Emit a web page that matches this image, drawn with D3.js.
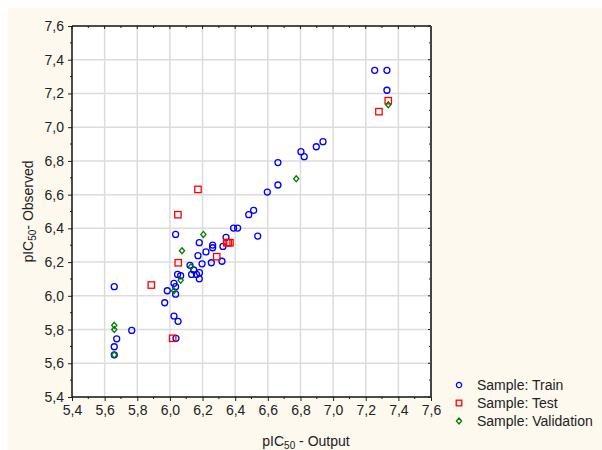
<!DOCTYPE html>
<html>
<head>
<meta charset="utf-8">
<script src="https://cdn.jsdelivr.net/npm/d3@7"></script>
<style>
  body { margin: 0; background: #fff; }
  text { font-family: "Liberation Sans", Arial, sans-serif; }
</style>
</head>
<body>
<div class="canvas"></div>
<script>
// [output, observed]
const trainData = [
    [5.659, 6.054], [5.674, 5.745], [5.659, 5.698], [5.659, 5.650], [5.766, 5.795],
    [5.968, 5.959], [5.984, 6.030], [6.025, 6.074], [6.035, 6.054], [6.035, 6.010],
    [6.025, 5.880], [6.050, 5.849], [6.037, 5.748], [6.035, 6.364], [6.047, 6.127],
    [6.066, 6.119], [6.123, 6.181], [6.146, 6.153], [6.181, 6.137], [6.133, 6.127],
    [6.163, 6.127], [6.180, 6.101], [6.172, 6.238], [6.180, 6.315], [6.221, 6.260],
    [6.197, 6.190], [6.254, 6.196], [6.262, 6.301], [6.262, 6.285], [6.319, 6.205],
    [6.325, 6.293], [6.344, 6.347], [6.390, 6.402], [6.415, 6.402], [6.483, 6.481],
    [6.513, 6.507], [6.538, 6.354], [6.597, 6.615], [6.662, 6.657], [6.662, 6.790],
    [6.803, 6.855], [6.823, 6.825], [6.897, 6.884], [6.938, 6.914], [7.255, 7.337],
    [7.330, 7.337], [7.330, 7.219]
];
const testData = [
    [5.886, 6.064], [6.017, 5.748], [6.049, 6.481], [6.051, 6.196], [6.172, 6.631],
    [6.287, 6.232], [6.348, 6.315], [6.358, 6.315], [6.368, 6.315], [7.281, 7.092],
    [7.338, 7.157]
];
const validationData = [
    [5.659, 5.825], [5.659, 5.800], [5.659, 5.650], [6.025, 6.030], [6.066, 6.093],
    [6.074, 6.267], [6.129, 6.172], [6.205, 6.364], [6.774, 6.694], [7.338, 7.133]
];
const tickValues = [5.4, 5.6, 5.8, 6.0, 6.2, 6.4, 6.6, 6.8, 7.0, 7.2, 7.4, 7.6];
const minorValues = [5.5, 5.7, 5.9, 6.1, 6.3, 6.5, 6.7, 6.9, 7.1, 7.3, 7.5];
const legendLabels = ["Sample: Train", "Sample: Test", "Sample: Validation"];

const W = 602, H = 450;
const margin = { left: 72, top: 26, right: 171, bottom: 53 };
const plot = { width: W - margin.left - margin.right, height: H - margin.top - margin.bottom };

const locale = d3.formatLocale({ decimal: ",", thousands: ".", grouping: [3], currency: ["", ""] });
const fmt = locale.format(".1f");

const svg = d3.select(".canvas").append("svg")
    .attr("width", W)
    .attr("height", H);

svg.append("rect")
    .attr("x", 8).attr("y", 8)
    .attr("width", W - 8).attr("height", H - 8)
    .attr("fill", "#fdf9ef");

const chart = svg.append("g")
    .attr("transform", `translate(${margin.left},${margin.top})`);

const x = d3.scaleLinear().domain([5.4, 7.6]).range([0, plot.width]);
const y = d3.scaleLinear().domain([5.4, 7.6]).range([plot.height, 0]);

chart.append("rect")
    .attr("width", plot.width).attr("height", plot.height)
    .attr("fill", "#fff");

// grid
chart.append("g").selectAll("line").data(tickValues.slice(1, -1)).join("line")
    .attr("x1", d => x(d)).attr("x2", d => x(d))
    .attr("y1", 0).attr("y2", plot.height)
    .attr("stroke", "#dcdcdc").attr("stroke-width", 1.5);
chart.append("g").selectAll("line").data(tickValues.slice(1, -1)).join("line")
    .attr("y1", d => y(d)).attr("y2", d => y(d))
    .attr("x1", 0).attr("x2", plot.width)
    .attr("stroke", "#dcdcdc").attr("stroke-width", 1.5);

// axes
function styleAxis(g) {
    g.select(".domain").remove();
    g.selectAll(".tick line").attr("stroke", "#222");
    g.selectAll(".tick text")
        .attr("fill", "#222")
        .style("font-size", "14px");
}

const xAxis = chart.append("g")
    .attr("transform", `translate(0,${plot.height})`)
    .call(d3.axisBottom(x).tickValues(tickValues).tickFormat(fmt).tickSize(4).tickPadding(4))
    .call(styleAxis);
xAxis.selectAll(".minor").data(minorValues).join("line")
    .attr("x1", d => x(d)).attr("x2", d => x(d))
    .attr("y1", 0).attr("y2", 2).attr("stroke", "#222");

const yAxis = chart.append("g")
    .call(d3.axisLeft(y).tickValues(tickValues).tickFormat(fmt).tickSize(4).tickPadding(4))
    .call(styleAxis);
yAxis.selectAll(".minor").data(minorValues).join("line")
    .attr("y1", d => y(d)).attr("y2", d => y(d))
    .attr("x1", 0).attr("x2", -2).attr("stroke", "#222");

// top and right inner ticks
const topG = chart.append("g");
topG.selectAll("line").data(tickValues.concat(minorValues)).join("line")
    .attr("x1", d => x(d)).attr("x2", d => x(d))
    .attr("y1", 0).attr("y2", d => minorValues.includes(d) ? 2 : 3)
    .attr("stroke", "#222");
const rightG = chart.append("g");
rightG.selectAll("line").data(tickValues.concat(minorValues)).join("line")
    .attr("y1", d => y(d)).attr("y2", d => y(d))
    .attr("x1", plot.width).attr("x2", d => plot.width - (minorValues.includes(d) ? 2 : 3))
    .attr("stroke", "#222");

// frame
chart.append("line").attr("x1", 0).attr("x2", plot.width).attr("y1", 0).attr("y2", 0)
    .attr("stroke", "#111").attr("stroke-width", 1.5);
chart.append("line").attr("x1", 0).attr("x2", plot.width).attr("y1", plot.height).attr("y2", plot.height)
    .attr("stroke", "#111").attr("stroke-width", 1.5);
chart.append("line").attr("x1", 0).attr("x2", 0).attr("y1", 0).attr("y2", plot.height)
    .attr("stroke", "#111").attr("stroke-width", 1.5);
chart.append("line").attr("x1", plot.width).attr("x2", plot.width).attr("y1", 0).attr("y2", plot.height)
    .attr("stroke", "#444").attr("stroke-width", 2);

// markers
const blue = "#0000ff", red = "#ff0000", green = "#008000";

function circleMark(g, cx, cy) {
    return g.append("circle").attr("cx", cx).attr("cy", cy).attr("r", 3)
        .attr("fill", "none").attr("stroke", blue).attr("stroke-width", 1.3);
}
function squareMark(g, cx, cy) {
    return g.append("rect").attr("x", cx - 3.2).attr("y", cy - 3.2)
        .attr("width", 6.4).attr("height", 6.4)
        .attr("fill", "none").attr("stroke", red).attr("stroke-width", 1.3);
}
function diamondMark(g, cx, cy) {
    return g.append("path")
        .attr("d", `M${cx},${cy - 3}L${cx + 2.6},${cy}L${cx},${cy + 3}L${cx - 2.6},${cy}Z`)
        .attr("fill", "none").attr("stroke", green).attr("stroke-width", 1.3);
}

const pts = chart.append("g");
trainData.forEach(d => circleMark(pts, x(d[0]), y(d[1])));
testData.forEach(d => squareMark(pts, x(d[0]), y(d[1])));
validationData.forEach(d => diamondMark(pts, x(d[0]), y(d[1])));

// axis titles
const xTitle = svg.append("text")
    .attr("x", 306)
    .attr("y", 446)
    .attr("text-anchor", "middle")
    .attr("fill", "#222")
    .style("font-size", "14px");
xTitle.append("tspan").text("pIC");
xTitle.append("tspan").attr("dy", 3).style("font-size", "10px").text("50");
xTitle.append("tspan").attr("dy", -3).text(" - Output");

const yTitle = svg.append("text")
    .attr("transform", `translate(33,${margin.top + plot.height / 2}) rotate(-90)`)
    .attr("text-anchor", "middle")
    .attr("fill", "#222")
    .style("font-size", "14px");
yTitle.append("tspan").text("pIC");
yTitle.append("tspan").attr("dy", 3).style("font-size", "10px").text("50");
yTitle.append("tspan").attr("dy", -3).text("- Observed");

// legend
const legend = svg.append("g").attr("transform", "translate(459,385)");
legendLabels.forEach((label, i) => {
    const row = legend.append("g").attr("transform", `translate(0,${i * 18})`);
    if (i === 0) circleMark(row, 0, 0).attr("r", 2.6);
    if (i === 1) squareMark(row, 0, 0).attr("x", -2.8).attr("y", -2.8).attr("width", 5.6).attr("height", 5.6);
    if (i === 2) diamondMark(row, 0, 0);
    row.append("text")
        .attr("x", 18).attr("y", 0).attr("dy", "0.35em")
        .attr("fill", "#222")
        .style("font-size", "14px")
        .text(label);
});
</script>
</body>
</html>
